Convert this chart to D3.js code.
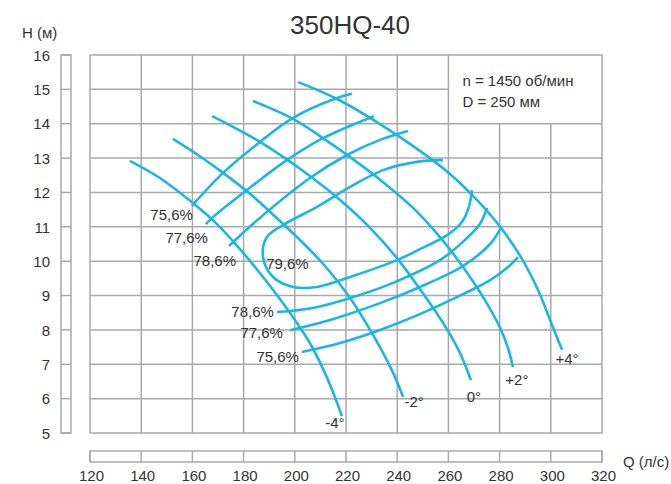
<!DOCTYPE html>
<html><head><meta charset="utf-8">
<script src="https://cdn.jsdelivr.net/npm/d3@7"></script>
<style>
body{margin:0;background:#fff}
svg{display:block}
text{font-family:"Liberation Sans",Arial,sans-serif;fill:#333}
</style>
</head><body>
<svg id="c" width="671" height="484"></svg>
<script>
// ---- data ----
const title = "350HQ-40";
const qTicks = [120,140,160,180,200,220,240,260,280,300,320];
const hTicks = [5,6,7,8,9,10,11,12,13,14,15,16];
const angleLabels = ["-4°","-2°","0°","+2°","+4°"];
const effLabelsUpper = ["75,6%","77,6%","78,6%"];
const effLabelsLower = ["78,6%","77,6%","75,6%"];
const effLabelBest = "79,6%";
const infoLines = ["n = 1450 об/мин","D = 250 мм"];

// head curves (Q л/с, H м) per blade angle
const headM4 = [[135.6,12.92],[147.3,12.42],[160.2,11.69],[169.6,11.08],[178.6,10.35],[187.6,9.54],[197.3,8.58],[206.7,7.51],[213.8,6.40],[218.4,5.49]];
const headM2 = [[152.4,13.56],[162.2,13.09],[172.0,12.57],[182.5,11.96],[194.2,11.17],[203.2,10.53],[211.8,9.86],[221.6,8.93],[230.5,7.86],[238.4,6.75],[242.3,6.05]];
const head0  = [[167.7,14.22],[186.4,13.47],[205.9,12.48],[217.7,11.78],[229.4,10.97],[239.9,10.09],[249.7,9.10],[258.7,8.11],[264.5,7.33],[268.8,6.54]];
const headP2 = [[183.7,14.66],[199.3,14.14],[211.0,13.58],[222.7,12.97],[234.5,12.30],[246.2,11.55],[256.7,10.70],[265.7,9.83],[273.5,8.96],[280.2,8.06],[283.3,7.47],[285.2,6.92]];
const headP4 = [[201.3,15.21],[216.5,14.72],[233.3,13.99],[248.9,13.21],[260.6,12.54],[270.4,11.84],[280.2,11.00],[288.0,10.16],[295.0,9.16],[300.5,8.14],[304.4,7.42]];

// efficiency iso-lines
const eff756Upper = [[159.8,11.61],[172.0,12.57],[186.4,13.47],[199.3,14.17],[216.5,14.75],[222.3,14.87]];
const eff776Upper = [[165.3,11.08],[167.7,11.26],[181.3,12.07],[196.9,12.94],[211.0,13.58],[230.9,14.22]];
const eff786Upper = [[174.3,10.44],[186.4,11.26],[205.9,12.42],[220.4,13.09],[233.3,13.53],[244.2,13.79]];
const eff786Lower = [[193.0,8.52],[207.1,8.64],[220.4,8.90],[238.4,9.37],[256.7,10.03],[266.5,10.62],[272.3,11.08],[275.1,11.55]];
const eff776Lower = [[198.1,7.99],[213.8,8.29],[233.3,8.78],[248.9,9.25],[265.7,9.86],[276.3,10.50],[280.5,10.97]];
const eff756Lower = [[202.8,7.36],[217.7,7.62],[233.3,8.00],[248.9,8.46],[265.7,9.04],[276.3,9.45],[283.3,9.83],[287.2,10.12]];
const eff796Loop  = [[257.9,12.94],[247.7,12.89],[234.5,12.65],[221.6,12.16],[208.7,11.58],[195.4,11.05],[189.1,10.70],[187.6,10.12],[191.5,9.54],[199.3,9.25],[208.7,9.25],[221.6,9.54],[239.9,10.03],[248.9,10.35],[259.5,10.76],[265.3,11.14],[268.0,11.58],[269.2,12.07]];

// ---- drawing ----
const svg = d3.select("#c");
const x = d3.scaleLinear().domain([120,320]).range([90,602]);
const y = d3.scaleLinear().domain([5,16]).range([433,55]);
const gridColor = "#a9a9a9";
const curveColor = "#1ab6e4";

// grid
const g = svg.append("g").attr("stroke", gridColor).attr("stroke-width", 1.5).attr("fill","none");
qTicks.slice(1,-1).forEach(q => {
  const top = q > 260 ? 14 : 16;
  g.append("line").attr("x1", x(q)).attr("x2", x(q)).attr("y1", y(5)).attr("y2", y(top));
});
hTicks.slice(1,-1).forEach(h => {
  const right = h > 14 ? 260 : 320;
  g.append("line").attr("x1", x(120)).attr("x2", x(right)).attr("y1", y(h)).attr("y2", y(h));
});
g.append("rect").attr("x", x(120)).attr("y", y(16)).attr("width", x(320)-x(120)).attr("height", y(5)-y(16));

// left strip
g.append("rect").attr("x", 61).attr("y", y(16)).attr("width", 10).attr("height", y(5)-y(16));
hTicks.forEach(h => g.append("line").attr("x1",61).attr("x2",71).attr("y1",y(h)).attr("y2",y(h)));
// bottom strip
g.append("rect").attr("x", x(120)).attr("y", 451).attr("width", x(320)-x(120)).attr("height", 11);
qTicks.forEach(q => g.append("line").attr("x1",x(q)).attr("x2",x(q)).attr("y1",451).attr("y2",462));

// axes labels via d3 axes
const ya = svg.append("g").attr("transform","translate(50,0)")
  .call(d3.axisLeft(y).tickValues(hTicks).tickSize(0).tickPadding(0).tickFormat(d3.format("d")));
ya.select(".domain").remove();
ya.selectAll("text").attr("font-size",15).attr("font-family",null).attr("fill","#333").attr("dy","0.35em");
const xa = svg.append("g").attr("transform","translate(1,470)")
  .call(d3.axisBottom(x).tickValues(qTicks).tickSize(0).tickPadding(0).tickFormat(d3.format("d")));
xa.select(".domain").remove();
xa.selectAll("text").attr("font-size",15).attr("font-family",null).attr("fill","#333").attr("dy","0.72em");

// titles
svg.append("text").attr("x",350).attr("y",34).attr("text-anchor","middle").attr("font-size",26).text(title);
svg.append("text").attr("x",22).attr("y",38).attr("font-size",15).text("H (м)");
svg.append("text").attr("x",623).attr("y",467).attr("font-size",15).text("Q (л/с)");
infoLines.forEach((t,i) => svg.append("text").attr("x", x(260)+14).attr("y", 86 + i*21).attr("font-size",15).text(t));

// curves
const line = d3.line().x(d => x(d[0])).y(d => y(d[1])).curve(d3.curveCatmullRom.alpha(0.5));
const cg = svg.append("g").attr("fill","none").attr("stroke",curveColor).attr("stroke-width",2.6);
const heads = [headM4, headM2, head0, headP2, headP4];
const effs = [eff756Upper, eff776Upper, eff786Upper, eff786Lower, eff776Lower, eff756Lower, eff796Loop];
heads.concat(effs).forEach(d => cg.append("path").attr("d", line(d)));

// angle labels at curve ends
const angleOff = [[-7,12],[11,10],[3,22],[4,18],[5,14]];
heads.forEach((d,i) => {
  const p = d[d.length-1];
  svg.append("text").attr("x", x(p[0]) + angleOff[i][0]).attr("y", y(p[1]) + angleOff[i][1])
    .attr("text-anchor","middle").attr("font-size",15).text(angleLabels[i]);
});
// efficiency labels at curve starts
const upOff = [[1,14],[2,19],[7,20]];
[eff756Upper, eff776Upper, eff786Upper].forEach((d,i) => {
  const p = d[0];
  svg.append("text").attr("x", x(p[0]) + upOff[i][0]).attr("y", y(p[1]) + upOff[i][1])
    .attr("text-anchor","end").attr("font-size",15).text(effLabelsUpper[i]);
});
const lowOff = [[-3,5],[-7,8],[-3,10]];
[eff786Lower, eff776Lower, eff756Lower].forEach((d,i) => {
  const p = d[0];
  svg.append("text").attr("x", x(p[0]) + lowOff[i][0]).attr("y", y(p[1]) + lowOff[i][1])
    .attr("text-anchor","end").attr("font-size",15).text(effLabelsLower[i]);
});
svg.append("text").attr("x", x(188.8)).attr("y", y(9.92)+5).attr("font-size",15).text(effLabelBest);
</script>
</body></html>
